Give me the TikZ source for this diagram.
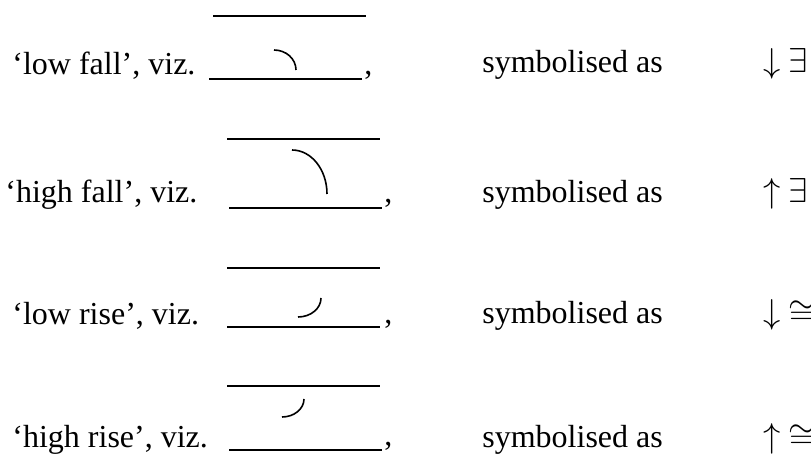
\documentclass[tikz,border=0pt]{standalone}
\usepackage{amsmath,amssymb}
\usepackage{fontspec}
\setmainfont{Liberation Serif}
\usepackage{tikz}
\usetikzlibrary{positioning}

\begin{document}
\begin{tikzpicture}[x=0.5pt, y=-0.5pt,
    every node/.style={inner sep=0pt, anchor=base west, font=\fontsize{16}{19}\selectfont},
    stave/.style={line width=0.7pt},
    tone/.style={line width=0.8pt}]
    \useasboundingbox (0,0) rectangle (811,454);

    % low fall
    \node (lfname) at (12,75) {`low fall', viz.};
    \draw[stave] (213,16) -- (366,16);
    \draw[stave] (209,79) -- (362,79);
    \draw[tone] (274,50) arc[start angle=-90, end angle=0, x radius=22, y radius=20];
    \node (lfcomma) at (364,75) {,};
    \node (lfsym) at (482,73) {symbolised as};
    \node (lfarrow) at (763,73) {$\downarrow$};
    \node (lfmark) at (788,73) {$\exists$};

    % high fall
    \node (hfname) at (5,203) {`high fall', viz.};
    \draw[stave] (227,139) -- (380,139);
    \draw[stave] (229,208) -- (382,208);
    \draw[tone] (292,150) arc[start angle=-90, end angle=0, x radius=35, y radius=44];
    \node (hfcomma) at (384,203) {,};
    \node (hfsym) at (482,203) {symbolised as};
    \node (hfarrow) at (763,203) {$\uparrow$};
    \node (hfmark) at (788,203) {$\exists$};

    % low rise
    \node (lrname) at (12,325) {`low rise', viz.};
    \draw[stave] (227,268) -- (380,268);
    \draw[stave] (227,327) -- (380,327);
    \draw[tone] (298,317) arc[start angle=90, end angle=0, x radius=23, y radius=19];
    \node (lrcomma) at (384,324) {,};
    \node (lrsym) at (482,324) {symbolised as};
    \node (lrarrow) at (763,324) {$\downarrow$};
    \node (lrmark) at (788,324) {$\cong$};

    % high rise
    \node (hrname) at (12,448) {`high rise', viz.};
    \draw[stave] (227,386) -- (380,386);
    \draw[stave] (229,450) -- (382,450);
    \draw[tone] (282,417) arc[start angle=90, end angle=0, x radius=22, y radius=18];
    \node (hrcomma) at (384,446) {,};
    \node (hrsym) at (482,448) {symbolised as};
    \node (hrarrow) at (763,448) {$\uparrow$};
    \node (hrmark) at (788,448) {$\cong$};
\end{tikzpicture}
\end{document}
